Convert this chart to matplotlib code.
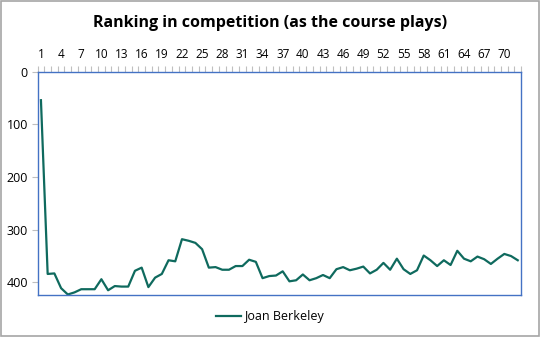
import numpy as np
import matplotlib
matplotlib.use('Agg')
import matplotlib.pyplot as plt
from matplotlib.patches import Rectangle

TITLE = "Ranking in competition (as the course plays)"
SERIES_NAME = "Joan Berkeley"
RANKS = [
    54, 384, 383, 411, 423, 419, 413, 413, 413, 394,
    415, 407, 408, 408, 378, 372, 409, 391, 384, 358,
    360, 318, 321, 325, 337, 372, 371, 376, 376, 369,
    369, 357, 361, 392, 388, 387, 379, 398, 396, 385,
    396, 392, 386, 392, 375, 371, 377, 374, 370, 383,
    376, 363, 376, 355, 375, 384, 377, 349, 358, 369,
    358, 367, 340, 355, 360, 351, 356, 365, 355, 346,
    350, 358,
]
ROUNDS = list(range(1, len(RANKS) + 1))
Y_TICKS = [0, 100, 200, 300, 400]
Y_MAX = 424

LINE_COLOR = '#0F6A5E'
FRAME_COLOR = '#4472C4'
TICK_COLOR = '#BFBFBF'

plt.rcParams['font.family'] = ['Open Sans', 'DejaVu Sans']

fig = plt.figure(figsize=(5.4, 3.37), dpi=100)
fig.patches.append(Rectangle((0.001, 0.002), 0.997, 0.995, transform=fig.transFigure,
                             fill=False, edgecolor='#A6A6A6', linewidth=1.2))

ax = fig.add_axes([0.0696, 0.1246, 0.8954, 0.6624])
line, = ax.plot(ROUNDS, RANKS, color=LINE_COLOR, linewidth=1.6, label=SERIES_NAME)

ax.set_xlim(0.5, len(RANKS) + 0.5)
ax.set_ylim(Y_MAX, 0)

# category axis on top, labels every 3rd round, ticks at category edges
ax.xaxis.tick_top()
ax.set_xticks(ROUNDS[::3])
ax.set_xticklabels([str(r) for r in ROUNDS[::3]])
ax.set_xticks(np.arange(0.5, len(RANKS) + 1, 1), minor=True)
ax.tick_params(axis='x', which='major', length=0, pad=8, labelsize=8.5, labelcolor='black')
ax.tick_params(axis='x', which='minor', length=4, color=TICK_COLOR, width=0.8)

ax.set_yticks(Y_TICKS)
ax.tick_params(axis='y', length=4, color=TICK_COLOR, width=0.8, labelsize=9, labelcolor='black', pad=3)

for side in ax.spines.values():
    side.set_color(FRAME_COLOR)
    side.set_linewidth(1.0)

fig.text(0.5, 0.932, TITLE, ha='center', va='center', fontsize=11.5,
         fontweight='bold', color='black')

fig.legend(handles=[line], loc='center', bbox_to_anchor=(0.5, 0.06), frameon=False,
           fontsize=9, handlelength=2.0, handletextpad=0.2)

fig.savefig('out.png', dpi=100)
